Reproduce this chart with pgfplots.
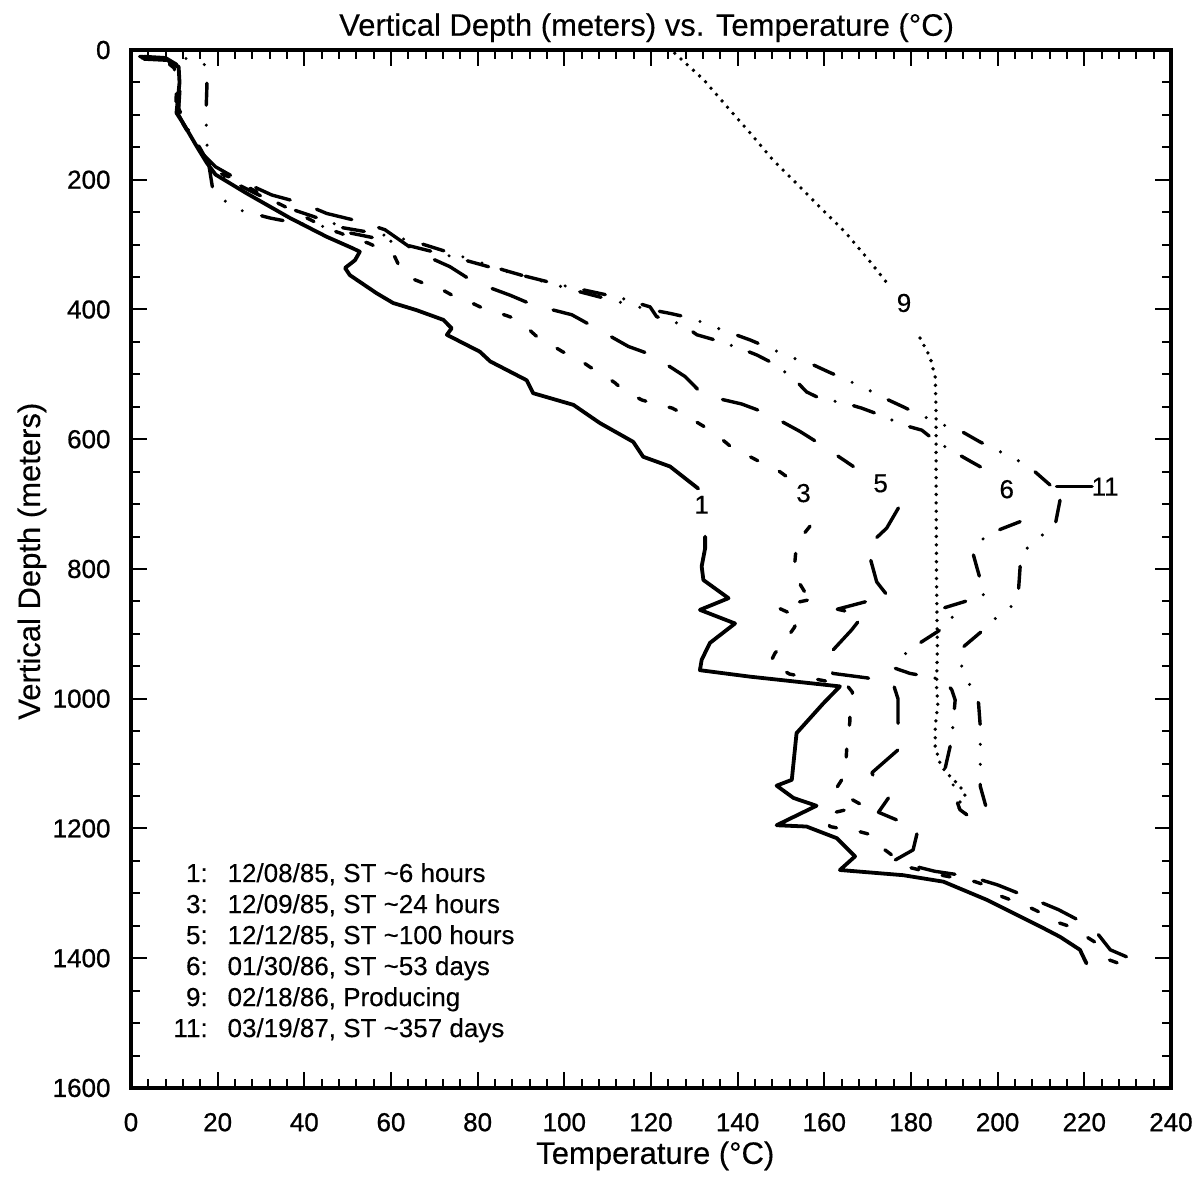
\documentclass[border=0pt]{standalone}
\usepackage{pgfplots}
\pgfplotsset{compat=1.18}
\usepackage{fontspec}
\setmainfont{Liberation Sans}[FakeBold=0.3]
\newfontfamily\tickfont{Liberation Sans}[FakeBold=0.8]

\tikzset{
  c1/.style={line width=1.9pt, solid, line cap=round, line join=round},
  c3/.style={line width=1.7pt, line cap=round, line join=round, dash pattern=on 4pt off 12pt},
  c5/.style={line width=1.7pt, line cap=round, line join=round, dash pattern=on 18.4pt off 14pt},
  c6/.style={line width=1.7pt, line cap=round, line join=round, dash pattern=on 11pt off 9.5pt on 0pt off 9.5pt},
  c11/.style={line width=1.7pt, line cap=round, line join=round, dash pattern=on 11pt off 10pt on 0pt off 10pt on 0pt off 10pt},
  c9/.style={line width=1.9pt, line cap=round, dash pattern=on 0pt off 4.2pt},
  lab/.style={font=\fontsize{13}{15}\selectfont, inner sep=0pt},
}

\begin{document}
\begin{tikzpicture}
\begin{axis}[
  scale only axis, width=520pt, height=519pt,
  xmin=0, xmax=240, ymin=0, ymax=1600, y dir=reverse,
  xtick={0,20,...,240}, minor x tick num=4,
  ytick={0,200,...,1600}, minor y tick num=3,
  tick align=inside,
  major tick length=8pt, minor tick length=4.5pt,
  axis line style={line width=2.2pt},
  every tick/.style={line width=1pt, black},
  ticklabel style={font=\tickfont\fontsize{13}{15}\selectfont},
  xticklabel style={yshift=-9pt},
  yticklabel style={xshift=-6.7pt},
  /pgf/number format/assume math mode=true,
  /pgf/number format/1000 sep={},
  clip=false,
]

% 1: 12/08/85
\addplot[c1] coordinates {(2.5,12)(8,14)(11,26)(11.2,50)(10.8,77)(10.5,97)(12.5,118)(15.2,149)(17.5,174)(19.5,192)(26.7,221)(36.7,259)(45.2,288)(51.3,306)(52.8,311)(51.7,324)(49.4,336)(50.5,347)(56.7,375)(60.5,390)(65.9,401)(72.1,416)(74,429)(72.9,439)(80.5,465)(82.9,480)(91.3,509)(92.8,529)(102.1,547)(108.2,575)(115.9,604)(118.2,627)(124.4,642)(130.9,676)};
\addplot[c1] coordinates {(132.5,750)(132.5,768)(131.7,796)(132.1,817)(137.9,845)(131.3,863)(139.4,884)(133.6,914)(131.7,940)(131.3,956)(142.9,966)(163.6,981)(159.8,1007)(153.6,1053)(152.5,1125)(149,1134)(152.9,1153)(158.2,1165)(149,1195)(155.9,1197)(162.9,1215)(167.1,1243)(163.6,1264)(178.2,1272)(187.5,1282)(197.5,1310)(209.8,1351)(214.4,1367)(219,1387)(220.5,1408)};

% 3: 12/09/85
\addplot[c3] coordinates {(2,10)(7,12)(10,28)(10.5,60)(10.3,95)(13,125)(16,155)(18.5,178)(20.5,190)(22.8,196)(33.2,234)(34.8,239)(45.9,277)(48.2,282)(52.4,293)(54.7,297.5)(59.1,311)(60.9,319)(62.1,336)(63.9,350)(68.5,362)(70.6,365)(75.2,382)(77.1,385)(81.2,398)(83.5,402)(88.2,413)(90.2,421)(93.7,442)(95.5,448.5)(99.7,465.5)(101.8,470)(105.9,488.6)(107.8,496)(111.7,513)(113.5,524)(117.9,539.5)(120.2,544)(124.9,552)(127.2,560)(130.9,575)(132.9,583)(137.1,604)(138.7,613)(142.9,627)(145.2,635)(149.1,647)(151.4,658)};
\addplot[c3] coordinates {(156.7,734)(153.6,760)(153.2,790)(154,819)(155.9,840)(158.2,845)(151.3,855)(149.4,860)(152,868)(154.4,873)(153,891)(151.3,907)(148.6,930)(147.5,945)(152,962)(165.2,979)(166.5,990)(165.9,1017)(165.9,1035)(165.2,1075)(164.8,1117)(162.5,1141)(164.4,1148)(169,1165)(160,1179)(161.3,1197)(163.6,1200)(168.2,1205)(171,1210)(174,1233)(176,1243)(179,1259)(187,1272)(194.8,1282)(197,1287)(201,1305)(203,1310)(207.5,1322)(210,1330)(214.4,1346)(216.7,1351)(220.5,1367)(222.9,1377)(225.5,1402)(228,1408)};

% 5: 12/12/85
\addplot[c5] coordinates {(3,10)(8,12)(10.5,22)(11,60)(11,100)(13.5,130)(16.5,160)(19.5,180)(24.8,200)(32.5,223.5)(39.4,236)(45.2,252)(53.2,265)(58.6,277)(65.9,311)(73.6,334)(79,357)(87.5,378)(92.8,393)(101.7,408)(106.7,426.5)(114.8,457)(120.2,470)(127.9,503.5)(132.1,532)(140.9,545.6)(146.7,560)(154.4,588)(159.4,609)(166.7,642)};
\addplot[c5] coordinates {(177.1,706)(174.4,737)(169.8,766)(170.5,781)(172.1,820)(174.8,843)(169.8,850)(163,862)(169,871)(166.3,894)(160.2,938)(162,961)(170,968)(176,979)(177,1000)(177,1035)(177.5,1076)(171,1114)(172,1130)(174.8,1153)(172.5,1175)(178.2,1191)(181.6,1202)(180.5,1233)(176,1250)(185.5,1266)(193.6,1274)(200,1287)(208.6,1310)(214,1325)(222,1353)(226,1387)(234,1410)};

% 6: 01/30/86
\addplot[c6] coordinates {(3,14)(9,16)(11.5,40)(11,90)(13,120)(16,152)(18,176)(21,195)(29,222)(37.8,247)(46.7,267)(50.5,282)(60.5,295.5)(73.6,317.5)(85.2,339)(99,362)(112.9,382)(119.8,396)(121.3,411)(127.5,424)(130.6,439)(134.8,447)(140.6,460)(144.4,470)(148.2,483)(152.9,506)(155.9,527)(159,537)(164.8,544.5)(168.6,552)(172.9,562.6)(178.2,578)(182.5,586)(185.9,604)(190.6,622)(194,635)(199.4,655)};
\addplot[c6] coordinates {(205.2,727)(200.2,740)(196.3,755)(194.4,778)(195.9,814)(196.7,840)(192.5,850)(187.1,861)(189.8,871)(188.6,886)(184.4,904)(180.2,922)(177.1,940)(176.3,953)(179.8,961)(184,966)(187.5,971)(189.4,986)(190.2,1002)(189.8,1033)(189.4,1063)(187.9,1107)(189,1125)(190.5,1141)(190.5,1156)(191.3,1171)(192.9,1179)};

% 9: 02/18/86, producing
\addplot[c9] coordinates {(125.5,5)(132.2,46)(137.5,87)(142.9,128)(148.2,170)(153.5,205)(158.8,241)(165,282)(170.3,324)(174.8,362)};
\addplot[c9] coordinates {(182.1,444)(184.4,473)(185.6,504)(185.8,560)(185.8,663)(185.9,817)(186.1,920)(185.9,991)(186.3,1002)(185.6,1043)(185.6,1074)(186.7,1099)(187.9,1112)(191.3,1135)(192.5,1148)(190.6,1166)(193.6,1182)};

% 11: 03/19/87
\addplot[c11] coordinates {(3,12)(10,12)(15,14)(17.5,25)(17.5,60)(17.3,100)(17.5,140)(17.8,170)(18.9,216)(23.6,244)(27.5,251)(32.1,259)(36.7,265)(42.5,271)(48.9,274)(55,281)(62.1,290)(66.7,298)(72.9,311)(85.9,339)(102,370)(118.2,398)(124.4,406)(129.4,413.5)(134.4,426.5)(142.9,447)(147.5,460)(152.9,475)(156.7,483)(160.9,496)(165.2,508.6)(170.2,524)(174,537)(178.2,550)(182.1,562.6)(187.5,578)(191.7,588)(195.9,604)(199.8,616.5)(205.2,634.6)(208.6,650)(212.1,670.5)};
\addplot[c11] coordinates {(214.4,694)(213.2,735)(209.8,750)(206.3,771)(205.2,796)(204.8,835)(202.9,860.5)(199,878.5)(196.7,894)(192.1,920)(191.7,950)(193.6,979)(195.6,1007)(196,1043)(196,1074)(196,1107)(196,1135)(197.5,1171)};
\addplot[c1, line width=1.7pt] coordinates {(213.6,673)(221.8,673)};

% curve numbers
\node[lab] at (axis cs:131.7,701) {1};
\node[lab] at (axis cs:155.2,683) {3};
\node[lab] at (axis cs:173,668) {5};
\node[lab] at (axis cs:202.1,677) {6};
\node[lab] at (axis cs:224.8,673) {11};
\node[lab] at (axis cs:178.4,390) {9};

% key
\node[lab, anchor=base east] at (axis cs:17.8,1282.5) {1:};
\node[lab, anchor=base west] at (axis cs:22.2,1282.5) {12/08/85, ST \textasciitilde6 hours};
\node[lab, anchor=base east] at (axis cs:17.8,1330.3) {3:};
\node[lab, anchor=base west] at (axis cs:22.2,1330.3) {12/09/85, ST \textasciitilde24 hours};
\node[lab, anchor=base east] at (axis cs:17.8,1378.1) {5:};
\node[lab, anchor=base west] at (axis cs:22.2,1378.1) {12/12/85, ST \textasciitilde100 hours};
\node[lab, anchor=base east] at (axis cs:17.8,1425.9) {6:};
\node[lab, anchor=base west] at (axis cs:22.2,1425.9) {01/30/86, ST \textasciitilde53 days};
\node[lab, anchor=base east] at (axis cs:17.8,1473.7) {9:};
\node[lab, anchor=base west] at (axis cs:22.2,1473.7) {02/18/86, Producing};
\node[lab, anchor=base east] at (axis cs:17.8,1521.5) {11:};
\node[lab, anchor=base west] at (axis cs:22.2,1521.5) {03/19/87, ST \textasciitilde357 days};

% titles
\node[anchor=base, inner sep=0pt, font=\fontsize{15.5}{18}\selectfont] at (axis cs:119,-22) {Vertical Depth (meters) vs. Temperature (°C)};
\node[anchor=base, inner sep=0pt, font=\fontsize{15.5}{18}\selectfont] at (axis cs:121,1717) {Temperature (°C)};
\node[anchor=base, rotate=90, inner sep=0pt, font=\fontsize{15.5}{18}\selectfont] at (axis cs:-21,788) {Vertical Depth (meters)};

\coordinate (BL) at (axis cs:-30.23,1738.6);
\coordinate (TR) at (axis cs:247.4,-77.07);
\end{axis}
\pgfresetboundingbox
\useasboundingbox (BL) rectangle (TR);
\end{tikzpicture}
\end{document}
